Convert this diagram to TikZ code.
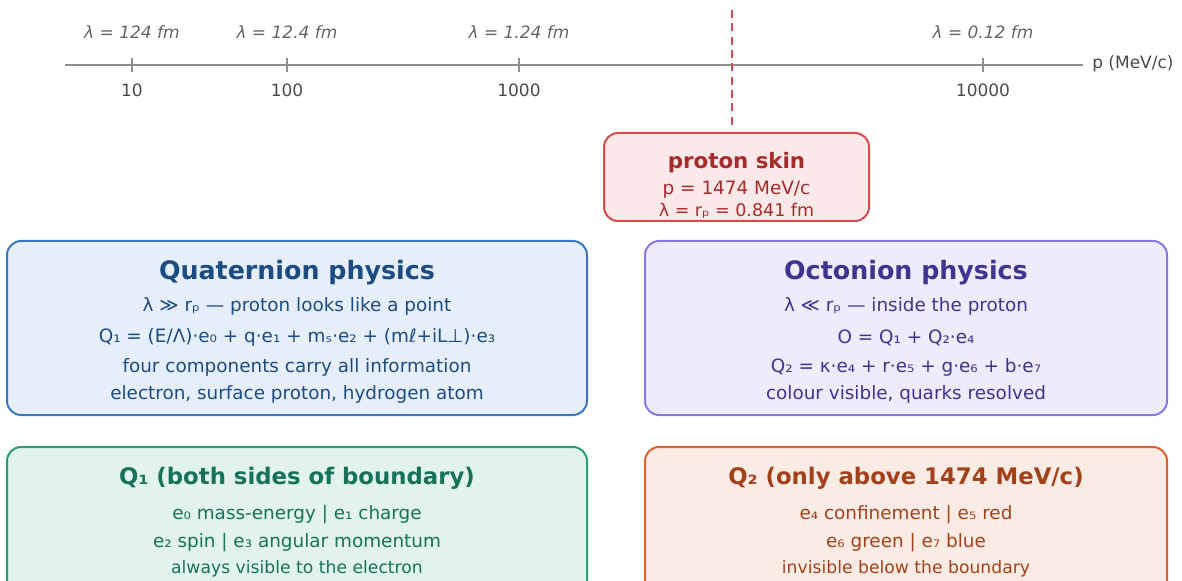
\documentclass[tikz,border=0pt]{standalone}
\usepackage{fontspec}
\setmainfont{DejaVu Sans}
\usepackage{xcolor}
\usepackage{tikz}

\definecolor{axisgray}{HTML}{8E8E8E}
\definecolor{labelgray}{HTML}{4A4A4A}
\definecolor{wavegray}{HTML}{666666}
\definecolor{skinfill}{HTML}{FBE9E9}
\definecolor{skindraw}{HTML}{D64B4B}
\definecolor{skintext}{HTML}{A62B2B}
\definecolor{quatfill}{HTML}{E6EFF9}
\definecolor{quatdraw}{HTML}{3B78C3}
\definecolor{quattext}{HTML}{1C4C82}
\definecolor{octfill}{HTML}{EEECFB}
\definecolor{octdraw}{HTML}{8878E0}
\definecolor{octtext}{HTML}{3D3590}
\definecolor{qonefill}{HTML}{E1F3EC}
\definecolor{qonedraw}{HTML}{2A9D76}
\definecolor{qonetext}{HTML}{177259}
\definecolor{qtwofill}{HTML}{FAEBE5}
\definecolor{qtwodraw}{HTML}{DC5F2E}
\definecolor{qtwotext}{HTML}{A3411B}

\begin{document}
\begin{tikzpicture}[
    x=0.75pt, y=-0.75pt,
    axis/.style={draw=axisgray, line width=1.2pt},
    ticklabel/.style={font=\fontsize{12.75}{15}\selectfont, text=labelgray, inner sep=0pt},
    wavelabel/.style={font=\fontsize{12.75}{15}\selectfont\itshape, text=wavegray, inner sep=0pt},
    boundary/.style={draw=skindraw, line width=1.5pt, dash pattern=on 6pt off 4pt},
    panel/.style={rectangle, rounded corners=10.5pt, line width=1.5pt, inner sep=0pt},
    bigtitle/.style={font=\fontsize{19}{22}\selectfont\bfseries, inner sep=0pt},
    subtitle/.style={font=\fontsize{17.1}{20}\selectfont\bfseries, inner sep=0pt},
    body/.style={font=\fontsize{13.8}{16}\selectfont, inner sep=0pt},
    small/.style={font=\fontsize{12.9}{15}\selectfont, inner sep=0pt}
]
\clip (0,0) rectangle (1182,581);

% momentum axis
\coordinate (axstart) at (65,65);
\coordinate (axend) at (1083,65);
\draw[axis] (axstart) -- (axend);
\node[font=\fontsize{12.75}{15}\selectfont, text=labelgray, anchor=west, inner sep=0pt] (unit) at (1092,64) {p (MeV/c)};

\foreach \x/\p/\w in {132/10/124, 287/100/12.4, 519/1000/1.24, 983/10000/0.12} {
    \draw[axis] (\x,58) -- (\x,72);
    \node[ticklabel] (p\p) at (\x,90) {\p};
    \node[wavelabel] (w\p) at (\x,32) {λ = \w\ fm};
}

% proton boundary
\coordinate (bndtop) at (732,10);
\coordinate (bndbot) at (732,125);
\draw[boundary] (bndtop) -- (bndbot);

\node[panel, fill=skinfill, draw=skindraw, minimum width=198.75pt, minimum height=66pt] (skin) at (736.5,177) {};
\node[font=\fontsize{16}{19}\selectfont\bfseries, text=skintext, inner sep=0pt] (skintitle) at (736.5,163) {proton skin};
\node[body, text=skintext] (skinp) at (736.5,189.5) {p = 1474 MeV/c};
\node[font=\fontsize{13.1}{15}\selectfont, text=skintext, inner sep=0pt] (skinl) at (736.5,211) {λ = rₚ = 0.841 fm};

% quaternion side
\node[panel, fill=quatfill, draw=quatdraw, minimum width=435pt, minimum height=130.5pt] (quat) at (297,328) {};
\node[bigtitle, text=quattext] (quattitle) at (297,273) {Quaternion physics};
\node[body, text=quattext] (quatone) at (297,306.5) {λ ≫ rₚ — proton looks like a point};
\node[body, text=quattext] (quattwo) at (297,337.5) {Q₁ = (E/Λ)·e₀ + q·e₁ + mₛ·e₂ + (mℓ+iL⊥)·e₃};
\node[body, text=quattext] (quatthree) at (297,367.5) {four components carry all information};
\node[body, text=quattext] (quatfour) at (297,394.5) {electron, surface proton, hydrogen atom};

% octonion side
\node[panel, fill=octfill, draw=octdraw, minimum width=391.5pt, minimum height=130.5pt] (oct) at (906,328) {};
\node[bigtitle, text=octtext] (octtitle) at (906,273) {Octonion physics};
\node[body, text=octtext] (octone) at (906,306.5) {λ ≪ rₚ — inside the proton};
\node[body, text=octtext] (octtwo) at (906,337.5) {O = Q₁ + Q₂·e₄};
\node[body, text=octtext] (octthree) at (906,367.5) {Q₂ = κ·e₄ + r·e₅ + g·e₆ + b·e₇};
\node[body, text=octtext] (octfour) at (906,394.5) {colour visible, quarks resolved};

% components
\node[panel, fill=qonefill, draw=qonedraw, minimum width=435pt, minimum height=130.5pt] (qone) at (297,534) {};
\node[subtitle, text=qonetext] (qonetitle) at (297,478.5) {Q₁ (both sides of boundary)};
\node[body, text=qonetext] (qoneone) at (297,514.5) {e₀ mass-energy | e₁ charge};
\node[body, text=qonetext] (qonetwo) at (297,542.5) {e₂ spin | e₃ angular momentum};
\node[small, text=qonetext] (qonethree) at (297,569) {always visible to the electron};

\node[panel, fill=qtwofill, draw=qtwodraw, minimum width=391.5pt, minimum height=130.5pt] (qtwo) at (906,534) {};
\node[subtitle, text=qtwotext] (qtwotitle) at (906,478.5) {Q₂ (only above 1474 MeV/c)};
\node[body, text=qtwotext] (qtwoone) at (906,514.5) {e₄ confinement | e₅ red};
\node[body, text=qtwotext] (qtwotwo) at (906,542.5) {e₆ green | e₇ blue};
\node[small, text=qtwotext] (qtwothree) at (906,569) {invisible below the boundary};

\end{tikzpicture}
\end{document}
